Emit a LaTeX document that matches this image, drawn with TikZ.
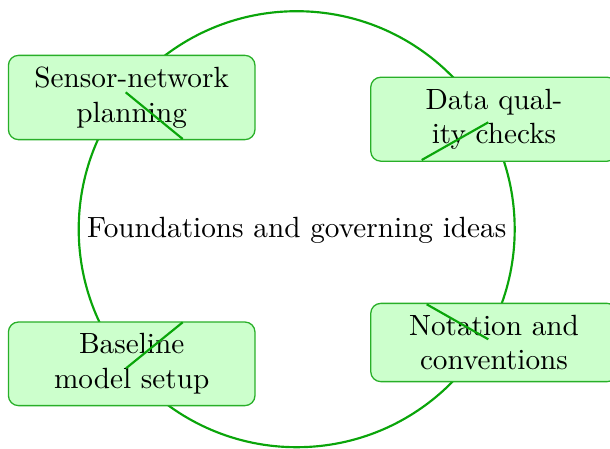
\documentclass[tikz,border=0pt]{standalone}
\usetikzlibrary{calc}
\definecolor{ringgreen}{RGB}{10,165,10}
\definecolor{boxedge}{RGB}{40,175,40}
\definecolor{boxfill}{RGB}{204,255,204}
\newcommand{\labelsize}{\fontsize{10.2pt}{12.1pt}\selectfont}
\tikzset{
  topicbox/.style={draw=boxedge, line width=0.45pt, fill=boxfill, rounded corners=3.5pt,
    text width=78pt, inner sep=4pt, align=center, font=\labelsize},
  ring/.style={draw=ringgreen, line width=0.75pt},
  tick/.style={draw=ringgreen, line width=0.75pt},
}
\begin{document}
\begin{tikzpicture}[x=0.3488pt, y=-0.3488pt]
  \useasboundingbox (0,0) rectangle (610,448);
  % central ring and its caption
  \coordinate (c) at (296.7,229.2);
  \draw[ring] (c) circle[radius=218];
  \node[font=\labelsize] (core) at (296.7,230) {Foundations and governing ideas};

  % the four topics placed round the ring
  \node[topicbox] (n1) at (131.7,97.5)  {Sensor-network\\planning};
  \node[topicbox] (n2) at (494,119.2)   {Data qual-\\ity checks};
  \node[topicbox] (n3) at (494,342.5)   {Notation and\\conventions};
  \node[topicbox] (n4) at (131.7,363.8) {Baseline\\model setup};

  % short radial strokes across each box, pointing at the ring centre
  \coordinate (a1) at (125.7,92.3);  \coordinate (b1) at (182.7,139);
  \coordinate (a2) at (488.3,122.3); \coordinate (b2) at (421.7,160);
  \coordinate (a3) at (488.3,339.3); \coordinate (b3) at (426.7,304.3);
  \coordinate (a4) at (126,368.3);   \coordinate (b4) at (182.7,322.3);
  \draw[tick] (a1) -- (b1);
  \draw[tick] (a2) -- (b2);
  \draw[tick] (a3) -- (b3);
  \draw[tick] (a4) -- (b4);
\end{tikzpicture}
\end{document}
